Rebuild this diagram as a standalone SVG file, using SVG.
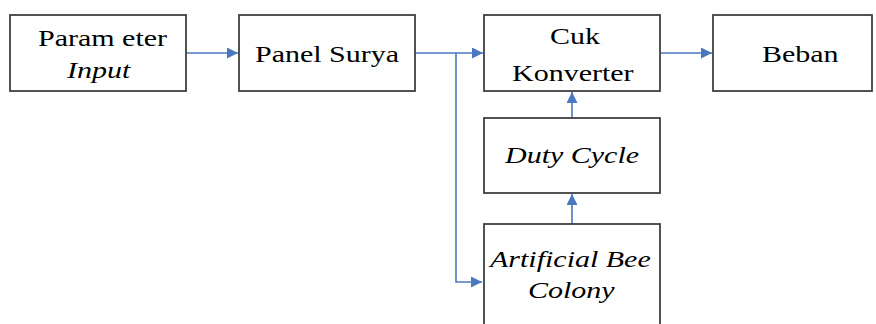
<svg xmlns="http://www.w3.org/2000/svg" width="876" height="324" viewBox="0 0 876 324">
  <defs>
    <marker id="tri" viewBox="0 0 10 10" refX="10" refY="5" markerWidth="11" markerHeight="11" markerUnits="userSpaceOnUse" orient="auto">
      <path d="M0,0 L10,5 L0,10 Z" fill="#4a78c0"/>
    </marker>
  </defs>
  <rect width="876" height="324" fill="#ffffff"/>

  <g id="connectors" fill="none" stroke="#4a78c0" stroke-width="1.6">
    <line x1="186" y1="53" x2="238" y2="53" marker-end="url(#tri)"/>
    <line x1="415" y1="53" x2="483" y2="53" marker-end="url(#tri)"/>
    <polyline points="456,53 456,282 482,282" marker-end="url(#tri)"/>
    <line x1="660" y1="53" x2="712" y2="53" marker-end="url(#tri)"/>
    <line x1="572" y1="118" x2="572" y2="92" marker-end="url(#tri)"/>
    <line x1="572" y1="224" x2="572" y2="194" marker-end="url(#tri)"/>
  </g>

  <!-- labels: serif face, widened 1.25x horizontally, left-aligned starts -->
  <g id="parameter-input">
    <rect x="10" y="15" width="176" height="76" fill="#ffffff" stroke="#404040" stroke-width="1.8"/>
    <text transform="translate(38,46) scale(1.25,1)" font-size="24" font-family="Liberation Serif">Param eter</text>
    <text transform="translate(67,78) scale(1.25,1)" font-size="24" font-family="Liberation Serif" font-style="italic">Input</text>
  </g>
  <g id="panel-surya">
    <rect x="239" y="15" width="176" height="76" fill="#ffffff" stroke="#404040" stroke-width="1.8"/>
    <text transform="translate(255,62) scale(1.25,1)" font-size="24" font-family="Liberation Serif">Panel Surya</text>
  </g>
  <g id="cuk-konverter">
    <rect x="484" y="15" width="176" height="76" fill="#ffffff" stroke="#404040" stroke-width="1.8"/>
    <text transform="translate(550,44) scale(1.25,1)" font-size="24" font-family="Liberation Serif">Cuk</text>
    <text transform="translate(512,81) scale(1.25,1)" font-size="24" font-family="Liberation Serif">Konverter</text>
  </g>
  <g id="beban">
    <rect x="713" y="15" width="159" height="76" fill="#ffffff" stroke="#404040" stroke-width="1.8"/>
    <text transform="translate(762,62) scale(1.25,1)" font-size="24" font-family="Liberation Serif">Beban</text>
  </g>
  <g id="duty-cycle">
    <rect x="484" y="118" width="176" height="75" fill="#ffffff" stroke="#404040" stroke-width="1.8"/>
    <text transform="translate(505,163) scale(1.25,1)" font-size="24" font-family="Liberation Serif" font-style="italic">Duty Cycle</text>
  </g>
  <g id="artificial-bee-colony">
    <rect x="484" y="224" width="176" height="110" fill="#ffffff" stroke="#404040" stroke-width="1.8"/>
    <text transform="translate(490,267) scale(1.25,1)" font-size="24" font-family="Liberation Serif" font-style="italic">Artificial Bee</text>
    <text transform="translate(528,298) scale(1.25,1)" font-size="24" font-family="Liberation Serif" font-style="italic">Colony</text>
  </g>
</svg>
